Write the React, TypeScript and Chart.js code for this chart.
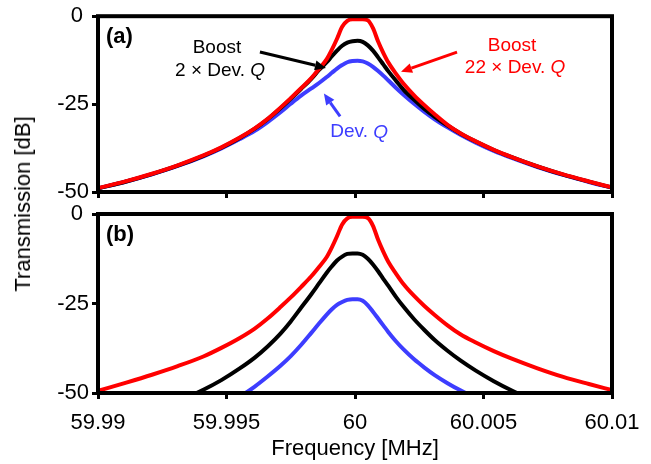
import React, { useEffect, useRef } from 'react';
import { Chart, registerables } from 'chart.js';

Chart.register(...registerables);

// ---------- data ----------
const FREQ_MHZ = [
  59.99, 59.9911, 59.9921, 59.9931, 59.9941, 59.9948, 59.9955, 59.9961, 59.9966, 59.9971,
  59.9975, 59.9979, 59.9983, 59.9986, 59.9989, 59.9991, 59.9993, 59.9995, 59.9997, 59.9999,
  60.0001,
  60.0003, 60.0005, 60.0007, 60.0009, 60.0011, 60.0013, 60.0016, 60.0019, 60.0023, 60.0027,
  60.0031, 60.0036, 60.0041, 60.0047, 60.0054, 60.0061, 60.0071, 60.0081, 60.0091, 60.01,
];

// panel (a)
const A_BOOST22 = [
  -48.9, -46.9, -44.8, -42.4, -39.6, -37.3, -34.6, -31.9, -29.2, -26.0,
  -23.3, -20.5, -17.6, -15.0, -12.2, -9.5, -6.4, -3.0, -1.3, -0.9,
  -0.9,
  -0.9, -1.2, -3.4, -7.2, -10.4, -13.2, -16.4, -19.3, -22.5, -25.3,
  -27.9, -30.9, -33.3, -35.6, -38.0, -40.05, -42.7, -45.0, -47.0, -48.7,
];
const A_BOOST2 = [
  -49.0, -47.0, -44.9, -42.5, -39.7, -37.4, -34.7, -32.0, -29.3, -26.2,
  -23.5, -20.7, -17.8, -15.3, -13.1, -11.4, -9.8, -8.4, -7.5, -7.1,
  -7.0,
  -7.3, -8.3, -9.8, -11.7, -13.7, -15.7, -18.4, -21.0, -23.8, -26.4,
  -28.6, -31.1, -33.35, -35.65, -38.05, -40.1, -42.75, -45.05, -47.05, -48.75,
];
const A_DEVQ = [
  -49.0, -47.0, -44.95, -42.6, -39.85, -37.6, -35.0, -32.6, -30.1, -27.3,
  -24.9, -22.6, -20.55, -19.0, -17.3, -16.1, -14.9, -13.9, -13.1, -12.75,
  -12.65,
  -12.85, -13.45, -14.4, -15.6, -16.9, -18.3, -20.4, -22.4, -24.9, -27.2,
  -29.3, -31.6, -33.7, -35.95, -38.3, -40.3, -42.9, -45.15, -47.15, -48.8,
];

// panel (b)
const B_BOOST22 = [
  -49.4, -47.1, -44.9, -42.5, -39.8, -37.4, -34.7, -32.0, -29.2, -26.0,
  -23.3, -20.4, -17.4, -14.8, -12.0, -9.3, -6.2, -2.9, -1.2, -0.8,
  -0.8,
  -0.8, -1.1, -3.3, -7.2, -10.5, -13.4, -16.7, -19.7, -22.9, -25.7,
  -28.2, -31.1, -33.6, -35.9, -38.3, -40.4, -43.1, -45.5, -47.5, -49.2,
];
const B_BOOST2 = [
  null, null, -55.3, -52.4, -49.1, -46.4, -43.2, -40.1, -37.0, -33.4,
  -30.0, -26.2, -22.4, -19.4, -16.4, -14.6, -13.0, -11.9, -11.15, -11.0,
  -11.0,
  -11.4, -12.5, -14.1, -16.0, -18.1, -20.1, -23.2, -26.0, -29.4, -32.4,
  -35.2, -38.2, -40.9, -43.75, -46.7, -49.3, -52.6, -55.4, null, null,
];
const B_DEVQ = [
  null, null, null, null, null, -54.0, -51.1, -48.2, -45.4, -42.4,
  -39.7, -36.6, -33.2, -30.6, -28.1, -26.6, -25.4, -24.6, -24.0, -23.8,
  -23.8,
  -24.25, -25.5, -27.3, -29.2, -31.1, -33.0, -35.6, -37.9, -40.6, -42.9,
  -45.0, -47.25, -49.25, -51.4, -53.5, null, null, null, null, null,
];

const X_TICKS = [59.99, 59.995, 60, 60.005, 60.01];
const X_TICK_LABELS = ['59.99', '59.995', '60', '60.005', '60.01'];
const Y_TICKS = [0, -25, -50];
const Y_TICK_LABELS = ['0 ', '-25', '-50'];

// ---------- styles ----------
const RED = '#FF0000';
const BLACK = '#000000';
const BLUE = '#3D3DFF';
const FONT = "'Liberation Sans', Arial, sans-serif";

Chart.defaults.font.family = FONT;
Chart.defaults.color = '#000';

type Part = [string, boolean];
type Note = { parts: Part[]; x: number; y: number; color: string };
type Arrow = { x1: number; y1: number; x2: number; y2: number; color: string };

const NOTES_A: Note[] = [
  { parts: [['Boost', false]], x: 59.99463, y: -9.0, color: BLACK },
  { parts: [['2 × Dev. ', false], ['Q', true]], x: 59.99475, y: -15.5, color: BLACK },
  { parts: [['Boost', false]], x: 60.00611, y: -8.5, color: RED },
  { parts: [['22 × Dev. ', false], ['Q', true]], x: 60.00623, y: -14.7, color: RED },
  { parts: [['Dev. ', false], ['Q', true]], x: 60.00016, y: -33.0, color: BLUE },
];
const ARROWS_A: Arrow[] = [
  { x1: 59.9963, y1: -10.2, x2: 59.99887, y2: -14.7, color: BLACK },
  { x1: 60.00397, y1: -10.2, x2: 60.00179, y2: -15.8, color: RED },
  { x1: 59.99942, y1: -28.5, x2: 59.99879, y2: -22.0, color: BLUE },
];

function series(vals: (number | null)[], color: string, label: string) {
  return {
    label,
    data: FREQ_MHZ.map((f, i) => ({ x: f, y: vals[i] })),
    borderColor: color,
    backgroundColor: color,
    borderWidth: 4,
    pointRadius: 0,
    fill: false,
    cubicInterpolationMode: 'monotone' as const,
    spanGaps: false,
  };
}

function decorPlugin(panel: string, notes: Note[], arrows: Arrow[]) {
  return {
    id: 'decor' + panel,
    afterDatasetsDraw(chart: any) {
      const { ctx, chartArea: a, scales } = chart;
      const xs = scales.x;
      const ys = scales.y;
      ctx.save();
      // frame
      ctx.strokeStyle = '#000';
      ctx.lineWidth = 4;
      ctx.strokeRect(a.left, a.top, a.right - a.left, a.bottom - a.top);
      // panel label
      ctx.fillStyle = '#000';
      ctx.font = `bold 22px ${FONT}`;
      ctx.textAlign = 'left';
      ctx.textBaseline = 'middle';
      ctx.fillText(`(${panel})`, a.left + 8, a.top + 21);
      // notes
      notes.forEach((n) => {
        const cx = xs.getPixelForValue(n.x);
        const cy = ys.getPixelForValue(n.y);
        let total = 0;
        const widths = n.parts.map(([t, it]) => {
          ctx.font = `${it ? 'italic ' : ''}19px ${FONT}`;
          const w = ctx.measureText(t).width;
          total += w;
          return w;
        });
        let sx = cx - total / 2;
        ctx.fillStyle = n.color;
        n.parts.forEach(([t, it], i) => {
          ctx.font = `${it ? 'italic ' : ''}19px ${FONT}`;
          ctx.fillText(t, sx, cy);
          sx += widths[i];
        });
      });
      // arrows
      arrows.forEach((ar) => {
        const x1 = xs.getPixelForValue(ar.x1);
        const y1 = ys.getPixelForValue(ar.y1);
        const x2 = xs.getPixelForValue(ar.x2);
        const y2 = ys.getPixelForValue(ar.y2);
        const ang = Math.atan2(y2 - y1, x2 - x1);
        const hl = 11;
        const hw = 5;
        const bx = x2 - hl * Math.cos(ang);
        const by = y2 - hl * Math.sin(ang);
        ctx.strokeStyle = ar.color;
        ctx.fillStyle = ar.color;
        ctx.lineWidth = 3;
        ctx.beginPath();
        ctx.moveTo(x1, y1);
        ctx.lineTo(bx, by);
        ctx.stroke();
        ctx.beginPath();
        ctx.moveTo(x2, y2);
        ctx.lineTo(bx + hw * Math.sin(ang), by - hw * Math.cos(ang));
        ctx.lineTo(bx - hw * Math.sin(ang), by + hw * Math.cos(ang));
        ctx.closePath();
        ctx.fill();
      });
      ctx.restore();
    },
  };
}

function makeConfig(
  panel: string,
  red: (number | null)[],
  black: (number | null)[],
  blue: (number | null)[],
  bottom: boolean,
  padTop: number,
  xHeight: number,
  notes: Note[],
  arrows: Arrow[]
): any {
  return {
    type: 'line',
    data: {
      datasets: [
        series(red, RED, 'Boost 22 × Dev. Q'),
        series(black, BLACK, 'Boost 2 × Dev. Q'),
        series(blue, BLUE, 'Dev. Q'),
      ],
    },
    options: {
      animation: false,
      responsive: false,
      events: [],
      layout: { padding: { left: 0, right: 39, top: padTop, bottom: 0 } },
      plugins: { legend: { display: false }, tooltip: { enabled: false } },
      scales: {
        x: {
          type: 'linear',
          min: 59.99,
          max: 60.01,
          afterBuildTicks: (s: any) => {
            s.ticks = X_TICKS.map((v) => ({ value: v }));
          },
          afterFit: (s: any) => {
            s.height = xHeight;
          },
          ticks: {
            display: bottom,
            autoSkip: false,
            maxRotation: 0,
            padding: 11,
            color: '#000',
            font: { size: 22, family: FONT },
            callback: (v: number) => {
              const i = X_TICKS.findIndex((t) => Math.abs(t - v) < 1e-9);
              return i >= 0 ? X_TICK_LABELS[i] : '';
            },
          },
          grid: {
            drawOnChartArea: false,
            drawTicks: true,
            tickLength: 6,
            tickWidth: 3,
            tickColor: '#000',
          },
          border: { display: false },
          title: bottom
            ? {
                display: true,
                text: 'Frequency [MHz]',
                color: '#000',
                font: { size: 22, family: FONT },
                padding: { top: 0, bottom: 2 },
              }
            : { display: false },
        },
        y: {
          type: 'linear',
          min: -50,
          max: 0,
          afterBuildTicks: (s: any) => {
            s.ticks = Y_TICKS.map((v) => ({ value: v }));
          },
          afterFit: (s: any) => {
            s.width = 98;
          },
          ticks: {
            padding: 3,
            color: '#000',
            font: { size: 22, family: FONT },
            callback: (v: number) => {
              const i = Y_TICKS.findIndex((t) => Math.abs(t - v) < 1e-9);
              return i >= 0 ? Y_TICK_LABELS[i] : '';
            },
          },
          grid: {
            drawOnChartArea: false,
            drawTicks: true,
            tickLength: 6,
            tickWidth: 3,
            tickColor: '#000',
          },
          border: { display: false },
        },
      },
    },
    plugins: [decorPlugin(panel, notes, arrows)],
  };
}

export default function App() {
  const topRef = useRef<HTMLCanvasElement | null>(null);
  const botRef = useRef<HTMLCanvasElement | null>(null);

  useEffect(() => {
    if (!topRef.current || !botRef.current) return;
    const c1 = new Chart(
      topRef.current,
      makeConfig('a', A_BOOST22, A_BOOST2, A_DEVQ, false, 15, 18, NOTES_A, ARROWS_A)
    );
    const c2 = new Chart(
      botRef.current,
      makeConfig('b', B_BOOST22, B_BOOST2, B_DEVQ, true, 19, 71, [], [])
    );
    return () => {
      c1.destroy();
      c2.destroy();
    };
  }, []);

  return (
    <div
      style={{
        position: 'fixed',
        left: 0,
        top: 0,
        width: 651,
        height: 464,
        background: '#fff',
        overflow: 'hidden',
      }}
    >
      <canvas
        ref={topRef}
        width={651}
        height={210}
        style={{ position: 'absolute', left: 0, top: 0, width: 651, height: 210 }}
      />
      <canvas
        ref={botRef}
        width={651}
        height={269}
        style={{ position: 'absolute', left: 0, top: 195, width: 651, height: 269 }}
      />
      <div
        style={{
          position: 'absolute',
          left: 23,
          top: 204,
          transform: 'translate(-50%, -50%) rotate(-90deg)',
          fontFamily: FONT,
          fontSize: 22,
          color: '#000',
          whiteSpace: 'nowrap',
          lineHeight: 1,
        }}
      >
        Transmission [dB]
      </div>
    </div>
  );
}
